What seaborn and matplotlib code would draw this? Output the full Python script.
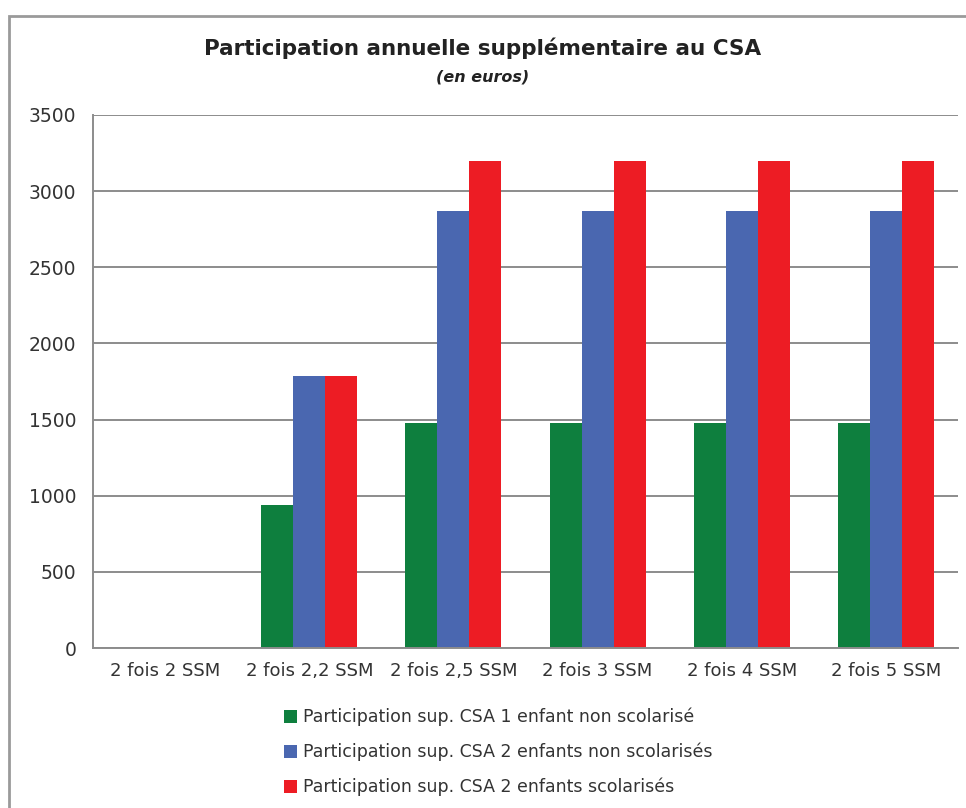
import seaborn as sns
import pandas as pd
import numpy as np
import matplotlib.pyplot as plt
from matplotlib.patches import Rectangle, Patch
from matplotlib.ticker import FixedLocator

#%% data

categories = ['2 fois 2 SSM', '2 fois 2,2 SSM', '2 fois 2,5 SSM',
              '2 fois 3 SSM', '2 fois 4 SSM', '2 fois 5 SSM']
series = ['Participation sup. CSA 1 enfant non scolarisé',
          'Participation sup. CSA 2 enfants non scolarisés',
          'Participation sup. CSA 2 enfants scolarisés']
un_enfant = [0, 940, 1480, 1480, 1480, 1480]
deux_non_scol = [0, 1785, 2870, 2870, 2870, 2870]
deux_scol = [0, 1785, 3195, 3195, 3195, 3195]
yticks = [0, 500, 1000, 1500, 2000, 2500, 3000, 3500]

palette = ['#0E7F3E', '#4A67B0', '#ED1C24']
grey = '#8C8C8C'
txt = '#333333'

df = pd.DataFrame({'Categorie': categories * 3,
                   'Serie': [series[0]] * 6 + [series[1]] * 6 + [series[2]] * 6,
                   'Montant': un_enfant + deux_non_scol + deux_scol})

#%% plot

sns.set_style("white")
plt.rcParams['font.family'] = ['DejaVu Sans']

fig = plt.figure(figsize=(9.66, 8.08), dpi=100)
ax = fig.add_axes([93/966, 1 - 648/808, (958-93)/966, (648-115)/808])

sns.barplot(data=df, x='Categorie', y='Montant', hue='Serie', palette=palette,
            width=0.667, dodge=True, linewidth=0, saturation=1, ax=ax, legend=False)

ax.set_ylim(0, 3500)
ax.set_xlim(-0.5, 5.5)
ax.set_yticks(yticks)
ax.yaxis.grid(True, color=grey, linewidth=1.4)
ax.set_axisbelow(True)
for s in ['top', 'right']:
    ax.spines[s].set_visible(False)
for s in ['left', 'bottom']:
    ax.spines[s].set_color(grey)
    ax.spines[s].set_linewidth(1.4)

ax.set_xlabel('')
ax.set_ylabel('')
ax.tick_params(axis='y', length=4, color=grey, width=1.2, pad=8, labelsize=13.5, labelcolor=txt)
ax.tick_params(axis='x', which='major', length=0, pad=10, labelsize=13, labelcolor=txt)
ax.xaxis.set_minor_locator(FixedLocator(np.arange(-0.5, 6, 1)))
ax.tick_params(axis='x', which='minor', length=5, color=grey, width=1.2)

# titles
fig.text(0.5, 1 - 48/808, 'Participation annuelle supplémentaire au CSA', ha='center', va='center',
         fontsize=15.5, fontweight='bold', color='#222222')
fig.text(0.5, 1 - 77/808, '(en euros)', ha='center', va='center', fontsize=11.5,
         fontweight='bold', fontstyle='italic', color='#222222')

# legend
handles = [Patch(facecolor=c, edgecolor='none') for c in palette]
fig.legend(handles, series, loc='upper left', bbox_to_anchor=(277/966, 1 - 701/808),
           frameon=False, fontsize=12.5, labelcolor=txt, handlelength=0.75, handleheight=0.75,
           handletextpad=0.35, labelspacing=0.95, borderaxespad=0)

# outer frame
fig.patches.append(Rectangle((9/966, -0.1), 1.2, 1.1 - 16/808, transform=fig.transFigure,
                             fill=False, edgecolor='#9A9A9A', linewidth=2))

fig.savefig('out.png', dpi=100)
